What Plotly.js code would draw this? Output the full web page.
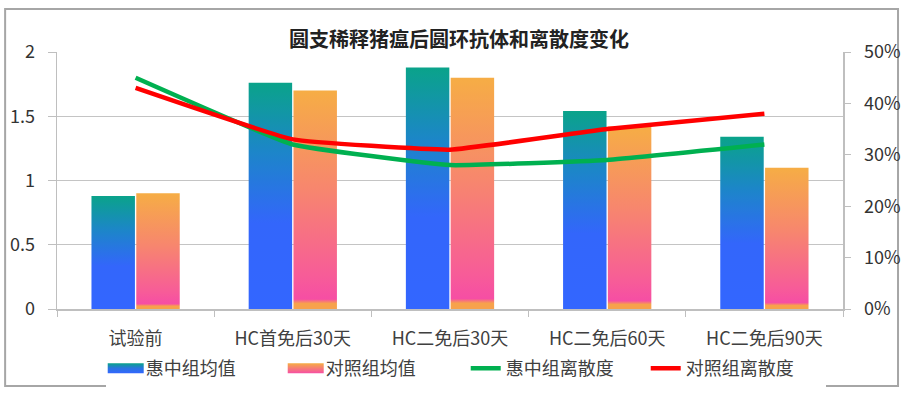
<!DOCTYPE html>
<html><head><meta charset="utf-8">
<script src="https://cdn.plot.ly/plotly-3.0.1.min.js"></script>
<style>html,body{margin:0;padding:0;background:#fff}#chart{width:909px;height:396px}</style>
</head><body><div id="chart"></div>
<script>
const categories = ['试验前', 'HC首免后30天', 'HC二免后30天', 'HC二免后60天', 'HC二免后90天'];
const huizhongMean = [0.88, 1.76, 1.88, 1.54, 1.34];
const controlMean = [0.90, 1.70, 1.80, 1.42, 1.10];
const huizhongDisp = [0.45, 0.32, 0.28, 0.29, 0.32];
const controlDisp = [0.43, 0.33, 0.31, 0.35, 0.38];
const seriesNames = ['惠中组均值', '对照组均值', '惠中组离散度', '对照组离散度'];
const yTicks = [0, 0.5, 1, 1.5, 2];
const yTickText = ['0', '0.5', '1', '1.5', '2'];

const FONT = '"Noto Sans CJK SC", "Noto Sans", sans-serif';
const traces = [
  {type:'bar', name:seriesNames[0], x:categories, y:huizhongMean, marker:{color:'#2f7fd0'}, yaxis:'y'},
  {type:'bar', name:seriesNames[1], x:categories, y:controlMean, marker:{color:'#f6807a'}, yaxis:'y'},
  {type:'scatter', mode:'lines', name:seriesNames[2], x:categories, y:huizhongDisp, yaxis:'y2',
   line:{color:'#00b050', width:4.5, shape:'spline', smoothing:0.3}},
  {type:'scatter', mode:'lines', name:seriesNames[3], x:categories, y:controlDisp, yaxis:'y2',
   line:{color:'#ff0000', width:4.5, shape:'spline', smoothing:0.3}}
];
const layout = {
  width:909, height:396,
  margin:{l:57, r:66, t:52, b:87, autoexpand:false},
  paper_bgcolor:'#fff', plot_bgcolor:'#fff',
  font:{family:FONT, color:'#404040', size:18},
  title:{text:'圆支稀释猪瘟后圆环抗体和离散度变化', x:0.505, xanchor:'center', y:0.9, yanchor:'middle',
         font:{family:FONT, size:20, color:'#222', weight:'bold'}},
  barmode:'group', bargap:0.43, bargroupgap:0.03,
  showlegend:true,
  legend:{orientation:'h', x:0.52, xanchor:'center', y:-0.16, yanchor:'top',
          font:{family:FONT, size:18, color:'#404040'}, entrywidth:135, traceorder:'normal'},
  xaxis:{type:'category', showline:true, linecolor:'#bfbfbf', linewidth:1.5, ticks:'outside', tickson:'boundaries',
         ticklen:6, tickcolor:'#bfbfbf', showgrid:false, tickfont:{size:18, color:'#404040'}, ticklabelstandoff:13,
         automargin:false},
  yaxis:{range:[0,2], tickvals:yTicks, ticktext:yTickText, showline:true, linecolor:'#bfbfbf', linewidth:1.5,
         ticks:'outside', ticklen:8, tickcolor:'#bfbfbf', gridcolor:'#c4c4c4', gridwidth:1.2, zeroline:false,
         tickfont:{size:18, color:'#333'}, ticklabelstandoff:9, automargin:false},
  yaxis2:{range:[0,0.5], dtick:0.1, tickformat:'.0%', overlaying:'y', side:'right', showgrid:false, zeroline:false,
          showline:true, linecolor:'#bfbfbf', linewidth:1.5, ticks:'outside', ticklen:6, tickcolor:'#bfbfbf',
          tickfont:{size:18, color:'#333'}, ticklabelstandoff:10, automargin:false},
  shapes:[{type:'rect', xref:'paper', yref:'paper', x0:-0.066, x1:1.07, y0:-0.3, y1:1.167,
           line:{color:'#a6a6a6', width:2}, fillcolor:'rgba(0,0,0,0)', layer:'below'}]
};
Plotly.newPlot('chart', traces, layout, {displayModeBar:false, staticPlot:true}).then(function(gd){
  const svg = gd.querySelector('svg.main-svg');
  const ns = 'http://www.w3.org/2000/svg';
  let defs = svg.querySelector('defs');
  if(!defs){ defs = document.createElementNS(ns,'defs'); svg.insertBefore(defs, svg.firstChild); }
  function grad(id, stops){
    const g = document.createElementNS(ns,'linearGradient');
    g.setAttribute('id', id);
    g.setAttribute('x1','0'); g.setAttribute('y1','1'); g.setAttribute('x2','0'); g.setAttribute('y2','0');
    stops.forEach(function(s){
      const st = document.createElementNS(ns,'stop');
      st.setAttribute('offset', s[0]); st.setAttribute('stop-color', s[1]);
      g.appendChild(st);
    });
    defs.appendChild(g);
  }
  grad('gBlue', [[0,'#3366ff'],[0.38,'#3366fb'],[0.7,'#1c86c8'],[1,'#0aa38a']]);
  grad('gOrange', [[0,'#f7a24c'],[0.025,'#f7a24c'],[0.045,'#f64ea4'],[0.15,'#f75c98'],[0.55,'#f7866e'],[1,'#f6ad45']]);
  grad('gBlueL', [[0,'#3366ff'],[0.5,'#2a74e0'],[1,'#0aa38a']]);
  grad('gOrangeL', [[0,'#f64ea4'],[1,'#f6ad45']]);
  gd.querySelectorAll('.barlayer .trace').forEach(function(t, i){
    t.querySelectorAll('path').forEach(function(p){ p.style.fill = i===0 ? 'url(#gBlue)' : 'url(#gOrange)'; });
  });
  gd.querySelectorAll('.legend .traces').forEach(function(t, i){
    if(i<2){
      t.querySelectorAll('.legendpoints path').forEach(function(p){
        p.setAttribute('d','M-18,-5h36v10h-36z');
        p.style.fill = i===0 ? 'url(#gBlueL)' : 'url(#gOrangeL)';
        p.style.stroke = 'none';
      });
    }
  });
});
</script>
</body></html>
